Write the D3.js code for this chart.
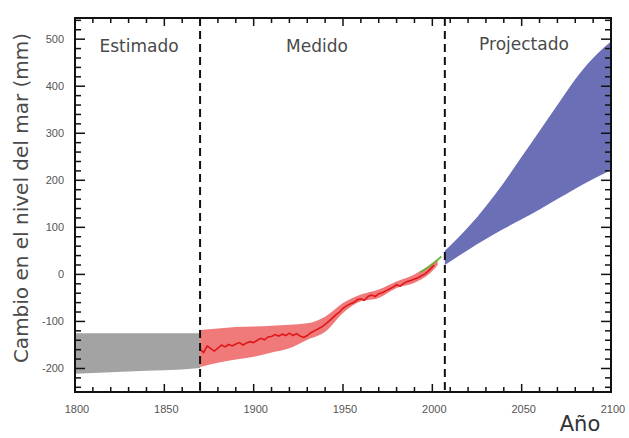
<!DOCTYPE html>
<html><head><meta charset="utf-8">
<script src="https://cdn.jsdelivr.net/npm/d3@7"></script>
<style>body{margin:0;background:#fff;} svg{display:block;}</style>
</head><body>
<svg id="c" width="629" height="438"></svg>
<script>
// ---- data ----
const xTicks = [1800, 1850, 1900, 1950, 2000, 2050, 2100];
const yTicks = [-200, -100, 0, 100, 200, 300, 400, 500];
const periodLabels = ["Estimado", "Medido", "Projectado"];
const periodBreaks = [1870, 2007];

const estYears = [1800, 1820, 1840, 1860, 1870];
const estUpper = [-125, -125, -125, -125, -125];
const estLower = [-211, -208, -205, -202, -199];

const measBandYears = [1870, 1880, 1890, 1900, 1910, 1920, 1930, 1940, 1950, 1960, 1970, 1980, 1990, 2000, 2003];
const measUpper = [-118, -115, -112, -111, -109, -107, -104, -90, -61, -43, -32, -15, 0, 24, 33];
const measLower = [-197, -188, -181, -175, -166, -157, -139, -122, -82, -57, -50, -29, -18, 7, 20];

const tideYears = [1870, 1872, 1874, 1876, 1878, 1880, 1882, 1884, 1886, 1888, 1890, 1892, 1894, 1896, 1898, 1900, 1902, 1904, 1906, 1908, 1910, 1912, 1914, 1916, 1918, 1920, 1922, 1924, 1926, 1928, 1930, 1932, 1934, 1936, 1938, 1940, 1942, 1944, 1946, 1948, 1950, 1952, 1954, 1956, 1958, 1960, 1962, 1964, 1966, 1968, 1970, 1972, 1974, 1976, 1978, 1980, 1982, 1984, 1986, 1988, 1990, 1992, 1994, 1996, 1998, 2000, 2001];
const tideValues = [-160, -166, -152, -158, -163, -157, -150, -154, -149, -152, -148, -145, -150, -146, -143, -145, -140, -136, -139, -133, -132, -128, -131, -127, -130, -125, -130, -126, -131, -134, -130, -124, -120, -116, -112, -106, -100, -93, -86, -80, -72, -67, -63, -60, -54, -52, -55, -47, -44, -47, -41, -39, -35, -31, -27, -22, -25, -19, -15, -13, -10, -7, -3, 1, 8, 16, 20];

const satYears = [1993, 1995, 1997, 1999, 2001, 2003, 2005];
const satValues = [4, 9, 13, 19, 25, 31, 38];

const projYears = [2007, 2020, 2030, 2040, 2050, 2060, 2070, 2080, 2090, 2100];
const projUpper = [50, 100, 145, 195, 250, 305, 360, 415, 460, 495];
const projLower = [20, 52, 75, 97, 117, 138, 160, 182, 203, 222];

// ---- layout ----
const svg = d3.select("#c");
const L = 75, R = 611, T = 18, B = 392;
const x = d3.scaleLinear().domain([1800, 2100]).range([L, R]);
const y = d3.scaleLinear().domain([-250, 545]).range([B, T]);

function band(years, up, lo) {
  return d3.area().curve(d3.curveMonotoneX)
    .x((d,i)=>x(years[i])).y0((d,i)=>y(lo[i])).y1((d,i)=>y(up[i]))(years);
}
svg.append("path").attr("d", band(estYears, estUpper, estLower)).attr("fill", "#a3a3a3");
svg.append("path").attr("d", band(measBandYears, measUpper, measLower)).attr("fill", "#f07a7a");
svg.append("path").attr("d", band(projYears, projUpper, projLower)).attr("fill", "#6b6fb6");

const line = d3.line().x(d=>x(d[0])).y(d=>y(d[1]));
svg.append("path").attr("d", line(tideYears.map((t,i)=>[t, tideValues[i]])))
  .attr("fill","none").attr("stroke","#e0161a").attr("stroke-width",1.6);
svg.append("path").attr("d", line(satYears.map((t,i)=>[t, satValues[i]])))
  .attr("fill","none").attr("stroke","#6db33f").attr("stroke-width",1.8);

// dashed separators
periodBreaks.forEach(b => {
  svg.append("line").attr("x1", x(b)).attr("x2", x(b)).attr("y1", T).attr("y2", B)
    .attr("stroke","#111").attr("stroke-width",2).attr("stroke-dasharray","8,5");
});

// axes with inward ticks
const xMinor = d3.range(1800, 2101, 10);
const yMinor = d3.range(-240, 541, 20);
const g = svg.append("g").attr("stroke","#111");
xMinor.forEach(v => {
  const major = v % 50 === 0;
  const len = major ? 8 : 5;
  g.append("line").attr("x1",x(v)).attr("x2",x(v)).attr("y1",B).attr("y2",B-len).attr("stroke-width",1.5);
  g.append("line").attr("x1",x(v)).attr("x2",x(v)).attr("y1",T).attr("y2",T+len).attr("stroke-width",1.5);
});
yMinor.forEach(v => {
  const major = v % 100 === 0;
  const len = major ? 10 : 6;
  g.append("line").attr("y1",y(v)).attr("y2",y(v)).attr("x1",L).attr("x2",L+len).attr("stroke-width",1.5);
  g.append("line").attr("y1",y(v)).attr("y2",y(v)).attr("x1",R).attr("x2",R-len).attr("stroke-width",1.5);
});
svg.append("rect").attr("x",L).attr("y",T).attr("width",R-L).attr("height",B-T)
  .attr("fill","none").attr("stroke","#111").attr("stroke-width",2);

// tick labels
svg.selectAll(".xl").data(xTicks).enter().append("text")
  .attr("x", d=>x(d)+2).attr("y", 413).attr("text-anchor","middle")
  .attr("font-family","Liberation Sans, Arial, sans-serif").attr("font-size",11).attr("fill","#555")
  .text(d=>d);
svg.selectAll(".yl").data(yTicks).enter().append("text")
  .attr("x", 64).attr("y", d=>y(d)+4).attr("text-anchor","end")
  .attr("font-family","Liberation Sans, Arial, sans-serif").attr("font-size",11).attr("fill","#555")
  .text(d=>d);

// period labels
const lblX = [139, 317, 524];
const lblY = [52, 52, 50];
periodLabels.forEach((t,i)=>{
  svg.append("text").attr("x",lblX[i]).attr("y",lblY[i]).attr("text-anchor","middle")
    .attr("font-family","DejaVu Sans, sans-serif").attr("font-size",17).attr("fill","#4a4a4a").text(t);
});

// axis titles
svg.append("text").attr("transform","translate(28,198) rotate(-90)").attr("text-anchor","middle")
  .attr("font-family","DejaVu Sans, sans-serif").attr("font-size",20).attr("fill","#4a4a4a")
  .text("Cambio en el nivel del mar (mm)");
svg.append("text").attr("x",580).attr("y",431).attr("text-anchor","middle")
  .attr("font-family","DejaVu Sans, sans-serif").attr("font-size",21).attr("fill","#333")
  .text("Año");
</script>
</body></html>
